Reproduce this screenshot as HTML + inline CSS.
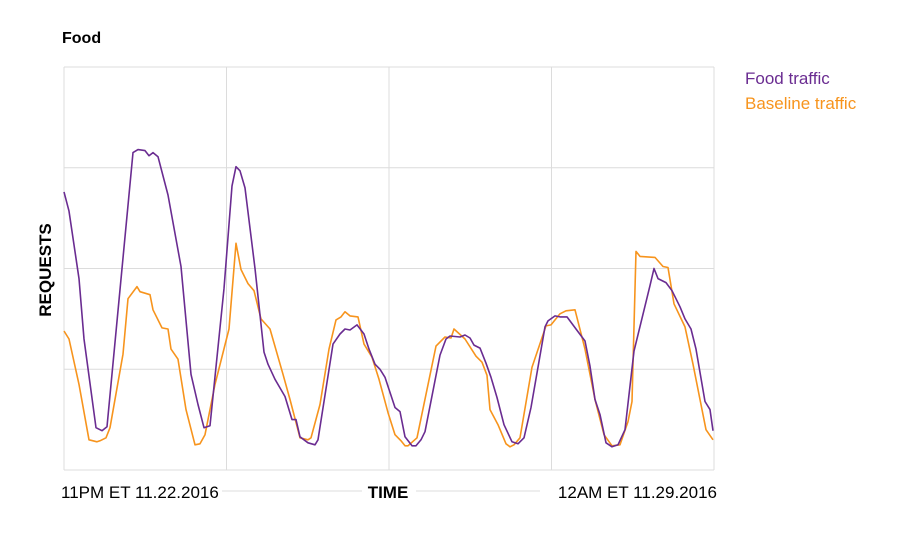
<!DOCTYPE html>
<html><head><meta charset="utf-8">
<style>
body{margin:0;background:#fff;font-family:"Liberation Sans",sans-serif;}
svg text{font-family:"Liberation Sans",sans-serif;}
</style></head>
<body>
<svg id="chart" width="900" height="543">
  <text x="62" y="43" font-size="16" font-weight="bold" fill="#000">Food</text>
  <g id="grid"></g>
  <g id="series"></g>
  <text transform="translate(51,270) rotate(-90)" text-anchor="middle" font-size="17" font-weight="bold">REQUESTS</text>
  <line x1="222" y1="491" x2="362" y2="491" stroke="#ddd" stroke-width="1"/>
  <line x1="416" y1="491" x2="540" y2="491" stroke="#ddd" stroke-width="1"/>
  <text x="61" y="498" font-size="17">11PM ET 11.22.2016</text>
  <text x="388" y="498" font-size="17" font-weight="bold" text-anchor="middle">TIME</text>
  <text x="717" y="498" font-size="17" text-anchor="end">12AM ET 11.29.2016</text>
  <text x="745" y="84" font-size="17" fill="#6a2c91">Food traffic</text>
  <text x="745" y="109" font-size="17" fill="#f7941d">Baseline traffic</text>
</svg>
<script>
const xTicks=[0,162.5,325,487.5,650];
const yTicks=[0,100,200,300,400];
const foodT=[0,5,15,20,32,38,43,69,74,81,85,89,94,104,117,127,134,140,146,160,168,172,176,181,191,200,204,211,221,228,232,236,244,251,254,269,276,281,286,293,300,305,311,316,321,325,331,336,341,348,352,357,361,376,382,386,396,401,406,410,416,422,427,433,440,448,454,460,467,481,484,491,496,503,512,521,526,531,536,542,548,554,561,570,586,590,594,602,608,616,621,627,632,641,646,649];
const foodV=[276,257,190,130,42,39,43,315,318,317,312,315,311,273,202,95,65,42,44,180,282,301,297,280,200,117,105,90,73,50,50,33,27,25,30,125,135,140,139,144,135,120,105,100,92,80,62,58,33,24,24,30,38,114,130,133,132,134,131,124,121,106,92,72,45,28,26,32,62,142,148,153,152,152,140,128,103,70,55,27,23,25,40,118,183,200,190,186,178,162,150,140,120,68,60,39];
const baseT=[0,5,15,25,33,36,42,46,59,64,73,76,86,89,98,104,107,114,122,131,136,141,151,165,172,177,184,190,197,206,219,226,236,244,247,256,265,272,277,281,286,294,300,308,315,324,331,337,341,344,353,372,381,387,390,401,412,418,423,426,434,442,446,450,456,468,482,487,496,502,511,521,531,540,548,556,564,568,572,576,591,599,604,610,621,629,636,642,649];
const baseV=[138,130,85,30,28,29,32,42,115,170,182,177,174,159,141,140,120,110,60,25,26,35,85,140,225,199,185,178,150,140,95,70,32,30,32,65,120,149,152,157,153,152,125,112,90,57,35,29,24,24,32,123,132,131,140,130,113,107,94,60,45,26,23,25,32,102,143,144,155,158,159,120,70,35,24,25,48,68,217,212,211,202,201,165,142,105,70,40,30];
const X0=64,X1=714,Y0=470,Y1=67;
const xs=t=>X0+(t/650)*(X1-X0);
const ys=v=>Y0-(v/400)*(Y0-Y1);
const NS="http://www.w3.org/2000/svg";
const grid=document.getElementById('grid');
xTicks.forEach(t=>{const l=document.createElementNS(NS,'line');
l.setAttribute('x1',xs(t));l.setAttribute('x2',xs(t));l.setAttribute('y1',Y1);l.setAttribute('y2',Y0);
l.setAttribute('stroke','#dcdcdc');l.setAttribute('stroke-width','1');


grid.appendChild(l);});
yTicks.forEach(v=>{const l=document.createElementNS(NS,'line');
l.setAttribute('x1',X0);l.setAttribute('x2',X1);l.setAttribute('y1',ys(v));l.setAttribute('y2',ys(v));
l.setAttribute('stroke','#dcdcdc');l.setAttribute('stroke-width','1');


grid.appendChild(l);});
const sg=document.getElementById('series');
function draw(T,V,color,name){const p=document.createElementNS(NS,'polyline');
p.setAttribute('points',T.map((t,i)=>xs(t).toFixed(1)+','+ys(V[i]).toFixed(1)).join(' '));
p.setAttribute('fill','none');p.setAttribute('stroke',color);p.setAttribute('stroke-width','1.6');p.setAttribute('stroke-linejoin','round');


sg.appendChild(p);}
draw(baseT,baseV,'#f7941d','baseline-traffic-line');
draw(foodT,foodV,'#6a2c91','food-traffic-line');
</script>
</body></html>
